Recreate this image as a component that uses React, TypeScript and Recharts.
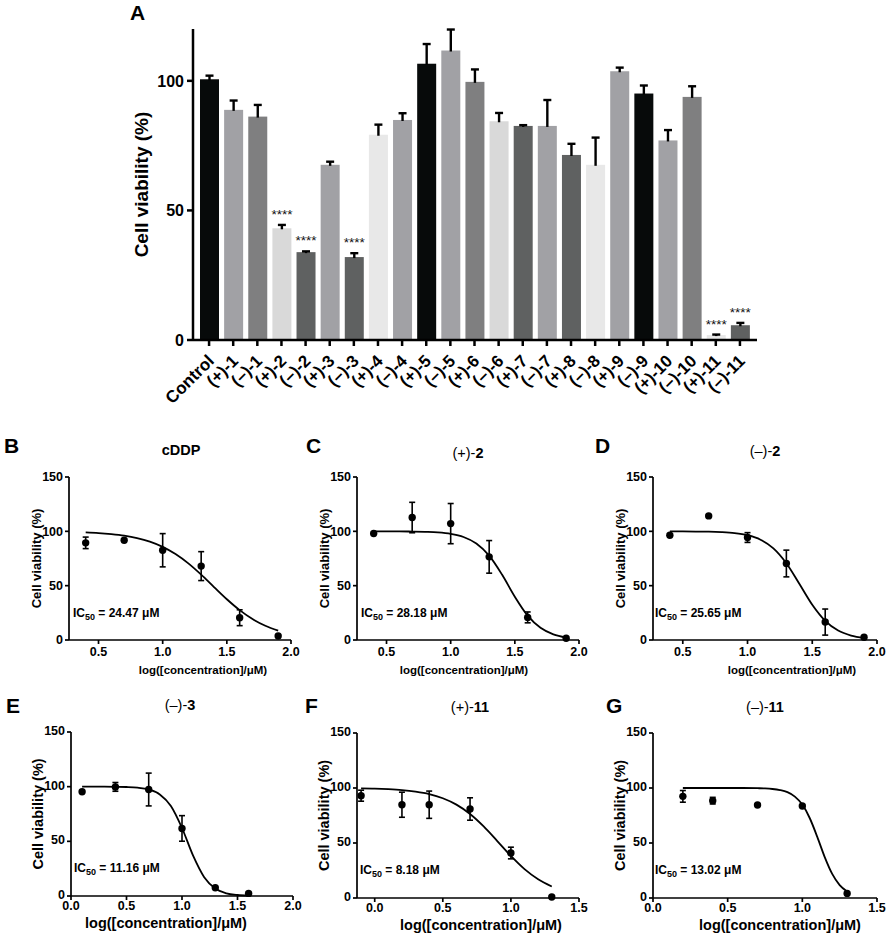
import React from "react";
import { BarChart, Bar, XAxis, YAxis, ComposedChart, Line, Scatter, ErrorBar } from "recharts";

const FONT = "'Liberation Sans', Arial, Helvetica, sans-serif";

// ---- panel A: screening at one concentration ----
const compounds = [
  "Control", "(+)-1", "(–)-1", "(+)-2", "(–)-2", "(+)-3", "(–)-3", "(+)-4", "(–)-4",
  "(+)-5", "(–)-5", "(+)-6", "(–)-6", "(+)-7", "(–)-7", "(+)-8", "(–)-8",
  "(+)-9", "(–)-9", "(+)-10", "(–)-10", "(+)-11", "(–)-11",
];
const viability = [
  100.6, 88.8, 86.2, 43.1, 33.9, 67.6, 32.0, 79.2, 84.9, 106.6, 111.7, 99.6,
  84.4, 82.6, 82.6, 71.4, 67.6, 103.7, 95.1, 77.0, 93.8, 1.9, 5.7,
];
const viabilitySem = [
  1.4, 3.6, 4.5, 1.3, 0.3, 1.2, 1.5, 3.9, 2.6, 7.6, 8.1, 4.8,
  3.2, 0.3, 10.0, 4.3, 10.5, 1.4, 3.1, 4.0, 4.1, 0.2, 0.9,
];
const barShades = [
  "#070a0a", "#a1a1a5", "#7f7f80", "#d9d9d9", "#5f6161", "#a1a1a5", "#5f6161", "#e8e8e8",
  "#a1a1a5", "#070a0a", "#a1a1a5", "#7f7f80", "#d9d9d9", "#5f6161", "#a1a1a5", "#5f6161",
  "#e8e8e8", "#a1a1a5", "#070a0a", "#a1a1a5", "#7f7f80", "#e8e8e8", "#5f6161",
];
const starred = ["(+)-2", "(–)-2", "(–)-3", "(+)-11", "(–)-11"];

const barRows = compounds.map((name, i) => ({
  name,
  v: viability[i],
  sem: viabilitySem[i],
  fill: barShades[i],
  star: starred.includes(name),
}));

// ---- panels B-G: dose response (log µM) ----
const doseBCD = [0.4, 0.7, 1.0, 1.3, 1.6, 1.9];
const cddpMean = [89.4, 91.8, 82.6, 68.0, 20.5, 3.7];
const cddpSem = [5.3, 0, 15.3, 13.3, 7.3, 0];
const plus2Mean = [98.0, 112.7, 107.1, 76.5, 20.8, 1.6];
const plus2Sem = [0, 14, 18.5, 15, 5, 0];
const minus2Mean = [96.4, 114.2, 94.3, 70.4, 16.5, 2.5];
const minus2Sem = [0, 0, 4.5, 12.3, 12, 0];
const doseE = [0.1, 0.4, 0.7, 1.0, 1.3, 1.6];
const minus3Mean = [95.3, 99.8, 97.4, 61.8, 7.6, 2.4];
const minus3Sem = [0, 4, 15, 11.7, 0, 0];
const doseF = [-0.1, 0.2, 0.4, 0.7, 1.0, 1.3];
const plus11Mean = [93.0, 84.8, 84.8, 80.9, 40.9, 0.9];
const plus11Sem = [5, 11.4, 12.4, 10.2, 5.3, 0];
const doseG = [0.2, 0.4, 0.7, 1.0, 1.3];
const minus11Mean = [92.4, 88.5, 84.5, 83.6, 4.2];
const minus11Sem = [5.3, 3, 0, 0, 0];

// fitted curves
const fitXBCD = [0.4, 0.5, 0.6, 0.7, 0.8, 0.9, 1.0, 1.1, 1.2, 1.3, 1.4, 1.5, 1.6, 1.7, 1.8, 1.9];
const cddpFit = [99.0, 98.4, 97.4, 96.0, 93.8, 90.5, 85.7, 79.1, 70.5, 60.1, 48.7, 37.5, 27.5, 19.3, 13.1, 8.7];
const plus2Fit = [100, 99.9, 99.9, 99.8, 99.5, 99.0, 97.7, 94.8, 88.8, 77.6, 60.2, 39.8, 22.4, 11.2, 5.2, 2.3];
const minus2Fit = [100, 99.9, 99.8, 99.7, 99.3, 98.4, 96.4, 92.3, 84.3, 70.6, 51.7, 32.4, 17.6, 8.7, 4.1, 1.9];
const fitXE = [0.1, 0.2, 0.3, 0.4, 0.5, 0.6, 0.7, 0.8, 0.9, 1.0, 1.1, 1.2, 1.3, 1.4, 1.5, 1.6];
const minus3Fit = [100, 100, 100, 99.9, 99.7, 99.1, 97.4, 92.9, 82.3, 62.2, 36.9, 17.2, 6.8, 2.5, 0.9, 0.3];
const fitXF = [-0.1, 0.0, 0.1, 0.2, 0.3, 0.4, 0.5, 0.6, 0.7, 0.8, 0.9, 1.0, 1.1, 1.2, 1.3];
const plus11Fit = [99.6, 99.4, 98.9, 98.1, 96.7, 94.5, 90.7, 84.9, 76.4, 65.1, 51.8, 38.2, 26.2, 17.0, 10.5];
const fitXG = [0.2, 0.3, 0.4, 0.5, 0.6, 0.7, 0.75, 0.8, 0.85, 0.9, 0.95, 1.0, 1.05, 1.1, 1.15, 1.2, 1.25, 1.3];
const minus11Fit = [100, 100, 100, 100, 100, 99.8, 99.6, 99.1, 98.1, 96.2, 92.2, 84.9, 72.5, 55.6, 37.2, 21.9, 11.7, 5.9];

const pts = (xs: number[], ys: number[], es: number[]) => xs.map((x, i) => ({ x, y: ys[i], err: es[i] }));
const line = (xs: number[], ys: number[]) => xs.map((x, i) => ({ x, y: ys[i] }));

function BarWithError(props: any) {
  const { x, y, width, height, payload } = props;
  const pxPer = height / payload.v;
  const errTop = y - payload.sem * pxPer;
  const cx = x + width / 2;
  return (
    <g>
      <rect x={x} y={y} width={width} height={height} fill={payload.fill} />
      <line x1={cx} x2={cx} y1={y + 1} y2={errTop} stroke="#000" strokeWidth={2.4} />
      <line x1={cx - 4} x2={cx + 4} y1={errTop} y2={errTop} stroke="#000" strokeWidth={2.4} />
      {payload.star && (
        <text x={cx} y={errTop - 6} textAnchor="middle" fontSize={13.5} fontFamily={FONT} fill="#111">
          ****
        </text>
      )}
    </g>
  );
}

function RotatedTick({ x, y, payload }: any) {
  const ax = x + 6;
  const ay = y + 14;
  return (
    <text x={ax} y={ay} transform={`rotate(-45 ${ax} ${ay})`} textAnchor="end" fontSize={17}
      fontWeight="bold" fontFamily={FONT} fill="#000">
      {payload.value}
    </text>
  );
}

function ScreenChart() {
  return (
    <BarChart width={886} height={420} data={barRows} margin={{ top: 29, right: 129, left: 0, bottom: 0 }} barSize={19}>
      <XAxis dataKey="name" height={80} interval={0} padding={{ left: 4, right: 5 }}
        axisLine={{ stroke: "#000", strokeWidth: 2.5 }} tickLine={{ stroke: "#000", strokeWidth: 2.5 }}
        tickSize={6} tick={<RotatedTick />} />
      <YAxis width={193} domain={[0, 120]} ticks={[0, 50, 100]} interval={0}
        axisLine={{ stroke: "#000", strokeWidth: 2.5 }} tickLine={{ stroke: "#000", strokeWidth: 2.5 }}
        tickSize={6} tickMargin={3}
        tick={{ fill: "#000", fontSize: 16, fontWeight: "bold", fontFamily: FONT }}
        label={(p: any) => {
          const vb = p.viewBox;
          const lx = vb.x + vb.width - 45;
          const ly = vb.y + vb.height / 2;
          return (
            <text x={lx} y={ly} transform={`rotate(-90 ${lx} ${ly})`} textAnchor="middle" fontSize={19}
              fontWeight="bold" fontFamily={FONT} fill="#000">
              Cell viability (%)
            </text>
          );
        }} />
      <Bar dataKey="v" shape={<BarWithError />} isAnimationActive={false} />
    </BarChart>
  );
}

type PanelProps = {
  left: number;
  top: number;
  w: number;
  h: number;
  xDomain: [number, number];
  xTicks: number[];
  points: { x: number; y: number; err: number }[];
  curve: { x: number; y: number }[];
  tickFont: number;
  xTickMargin: number;
  yTickDy: number;
  yLabelFont: number;
  xLabelFont: number;
  xLabelDx: number;
  xLabelDy: number;
};

function DosePanel(p: PanelProps) {
  const yW = 66;
  const axisStyle = { stroke: "#000", strokeWidth: 1.7 };
  const tick = { fill: "#000", fontSize: p.tickFont, fontWeight: "bold", fontFamily: FONT };
  return (
    <div style={{ position: "absolute", left: p.left - yW, top: p.top - 10 }}>
      <ComposedChart width={yW + p.w + 20} height={10 + p.h + 50} margin={{ top: 10, right: 20, left: 0, bottom: 0 }}>
        <XAxis type="number" dataKey="x" domain={p.xDomain} ticks={p.xTicks} interval={0} allowDataOverflow
          height={50} axisLine={axisStyle} tickLine={axisStyle} tickSize={4} tickMargin={p.xTickMargin}
          tickFormatter={(v: number) => v.toFixed(1)} tick={tick}
          label={(lp: any) => {
            const vb = lp.viewBox;
            return (
              <text x={vb.x + vb.width / 2 + p.xLabelDx} y={vb.y + p.xLabelDy} textAnchor="middle"
                fontSize={p.xLabelFont} fontWeight="bold" fontFamily={FONT} fill="#000">
                log([concentration]/μM)
              </text>
            );
          }} />
        <YAxis type="number" domain={[0, 150]} ticks={[0, 50, 100, 150]} interval={0} width={yW}
          axisLine={axisStyle} tickLine={axisStyle} tickSize={4} tickMargin={2} tick={{ ...tick, dy: p.yTickDy }}
          label={(lp: any) => {
            const vb = lp.viewBox;
            const lx = vb.x + vb.width - 33 + p.yLabelFont * 0.35;
            const ly = vb.y + vb.height / 2;
            return (
              <text x={lx} y={ly} transform={`rotate(-90 ${lx} ${ly})`} textAnchor="middle"
                fontSize={p.yLabelFont} fontWeight="bold" fontFamily={FONT} fill="#000">
                Cell viability (%)
              </text>
            );
          }} />
        <Line data={p.curve} dataKey="y" type="monotone" stroke="#000" strokeWidth={1.8} dot={false}
          isAnimationActive={false} />
        <Scatter data={p.points} dataKey="y" isAnimationActive={false}
          shape={(s: any) => <circle cx={s.cx} cy={s.cy} r={3.7} fill="#000" />}>
          <ErrorBar dataKey="err" direction="y" width={3} stroke="#000" strokeWidth={1.6} />
        </Scatter>
      </ComposedChart>
    </div>
  );
}

const bold = { fontWeight: "bold" as const };

function Ic50({ x, y, value }: { x: number; y: number; value: string }) {
  return (
    <text x={x} y={y} fontSize={12} fontFamily={FONT} {...bold}>
      IC<tspan fontSize={9} dy={3}>50</tspan>
      <tspan dy={-3}>{` = ${value} μM`}</tspan>
    </text>
  );
}

function Title({ x, y, prefix, rest }: { x: number; y: number; prefix: string; rest: string }) {
  return (
    <text x={x} y={y} textAnchor="middle" fontSize={14.5} fontFamily={FONT}>
      {prefix}
      <tspan {...bold}>{rest}</tspan>
    </text>
  );
}

export default function App() {
  const top = { w: 222, h: 163, xDomain: [0.27, 2.0] as [number, number], xTicks: [0.5, 1.0, 1.5, 2.0], tickFont: 12.5, xTickMargin: 3, yTickDy: 0, yLabelFont: 13, xLabelFont: 11.5, xLabelDy: 34 };
  const bottom = { tickFont: 12.5, xTickMargin: 1, yTickDy: -1.5, yLabelFont: 14.5, xLabelFont: 14.5, xLabelDy: 32 };
  const letter = { fontSize: 21, fontFamily: FONT, ...bold };
  return (
    <div style={{ position: "absolute", left: 0, top: 0, width: 886, height: 940, background: "#fff" }}>
      <div style={{ position: "absolute", left: 0, top: 0 }}>
        <ScreenChart />
      </div>
      <DosePanel {...top} left={69} top={477} points={pts(doseBCD, cddpMean, cddpSem)} curve={line(fitXBCD, cddpFit)} xLabelDx={23} />
      <DosePanel {...top} left={357} top={477} points={pts(doseBCD, plus2Mean, plus2Sem)} curve={line(fitXBCD, plus2Fit)} xLabelDx={-4} />
      <DosePanel {...top} left={653} top={477} w={224} points={pts(doseBCD, minus2Mean, minus2Sem)} curve={line(fitXBCD, minus2Fit)} xLabelDx={27} />
      <DosePanel {...bottom} left={71} top={732} w={222} h={164} xDomain={[0, 2.0]} xTicks={[0, 0.5, 1.0, 1.5, 2.0]}
        points={pts(doseE, minus3Mean, minus3Sem)} curve={line(fitXE, minus3Fit)} xLabelDx={-16} />
      <DosePanel {...bottom} left={357} top={733} w={222} h={165} xDomain={[-0.13, 1.5]} xTicks={[0, 0.5, 1.0, 1.5]}
        points={pts(doseF, plus11Mean, plus11Sem)} curve={line(fitXF, plus11Fit)} xLabelDx={13} />
      <DosePanel {...bottom} left={653} top={733} w={224} h={165} xDomain={[0, 1.5]} xTicks={[0, 0.5, 1.0, 1.5]}
        points={pts(doseG, minus11Mean, minus11Sem)} curve={line(fitXG, minus11Fit)} xLabelDx={15} />
      <svg width={886} height={940} style={{ position: "absolute", left: 0, top: 0, pointerEvents: "none" }}>
        <text x={130} y={20} {...letter}>A</text>
        <text x={4} y={453} {...letter}>B</text>
        <text x={306} y={453} {...letter}>C</text>
        <text x={595} y={453} {...letter}>D</text>
        <text x={6} y={713} {...letter}>E</text>
        <text x={305} y={713} {...letter}>F</text>
        <text x={606} y={713} {...letter}>G</text>
        <Title x={181} y={455} prefix="" rest="cDDP" />
        <Title x={468} y={458} prefix="(+)-" rest="2" />
        <Title x={765} y={456} prefix="(–)-" rest="2" />
        <Title x={180} y={710} prefix="(–)-" rest="3" />
        <Title x={470} y={712} prefix="(+)-" rest="11" />
        <Title x={765} y={712} prefix="(–)-" rest="11" />
        <Ic50 x={73} y={617} value="24.47" />
        <Ic50 x={361} y={617} value="28.18" />
        <Ic50 x={655} y={617} value="25.65" />
        <Ic50 x={74} y={872} value="11.16" />
        <Ic50 x={360} y={874} value="8.18" />
        <Ic50 x={655} y={874} value="13.02" />
      </svg>
    </div>
  );
}
